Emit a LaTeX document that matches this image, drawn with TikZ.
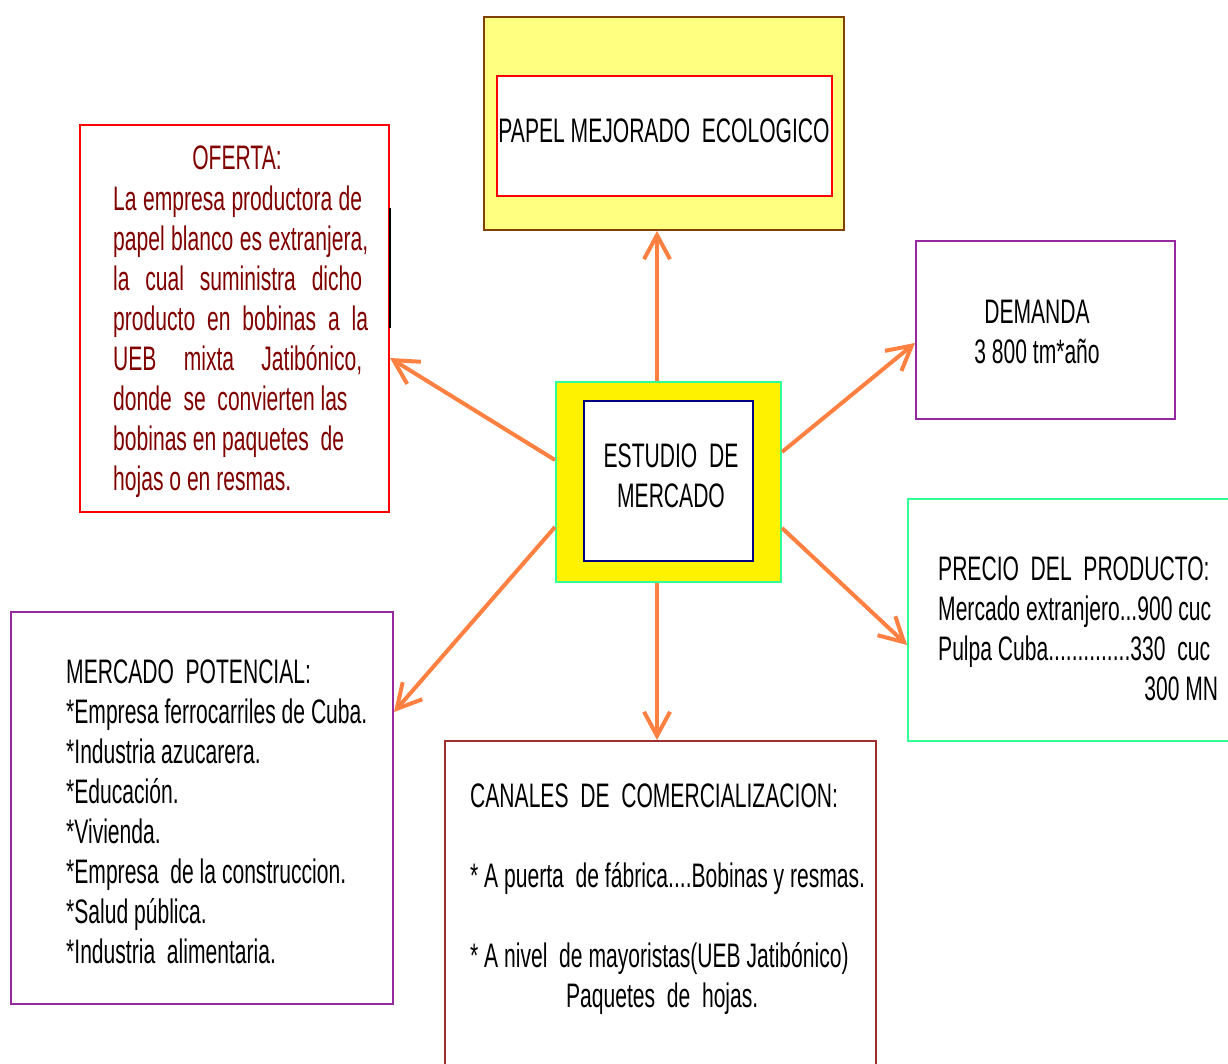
\documentclass[tikz,border=0pt]{standalone}
\usepackage{fontspec}
\setmainfont{Liberation Sans}[FakeStretch=0.62]
\usetikzlibrary{arrows.meta}
\definecolor{arrowc}{RGB}{255,128,64}
\definecolor{lightyel}{RGB}{255,255,128}
\definecolor{brownb}{RGB}{128,64,0}
\definecolor{mint}{RGB}{51,255,153}
\definecolor{navyb}{RGB}{0,0,128}
\definecolor{purpb}{RGB}{150,40,160}
\definecolor{darkredt}{RGB}{128,0,0}
\definecolor{canalb}{RGB}{160,48,48}
\begin{document}
\begin{tikzpicture}[x=1pt,y=-1pt,
  box/.style={draw, line width=2pt, inner sep=0pt, fill=white},
  txt/.style={inner sep=0pt, font=\fontsize{34}{40}\selectfont},
  conn/.style={draw=arrowc, line width=4pt, -{Straight Barb[length=24pt,width=26pt]}}]
\useasboundingbox (0,0) rectangle (1228,1064);
\clip (0,0) rectangle (1228,1064);
\fill[white] (0,0) rectangle (1228,1064);
% boxes
\node[box, draw=brownb, fill=lightyel, minimum width=360pt, minimum height=213pt] (papel) at (664,123.5) {};
\node[box, draw=red, minimum width=335pt, minimum height=120pt] (papelin) at (664.5,136) {};
\node[box, draw=red, minimum width=309pt, minimum height=387pt] (oferta) at (234.5,318.5) {};
\node[box, draw=mint, fill=yellow, minimum width=225pt, minimum height=200pt] (ctr) at (668.5,482) {};
\node[box, draw=navyb, minimum width=169pt, minimum height=160pt] (ctrin) at (668.5,481) {};
\node[box, draw=purpb, minimum width=259pt, minimum height=178pt] (dem) at (1045.5,330) {};
\node[box, draw=mint, minimum width=332pt, minimum height=242pt] (precio) at (1074,620) {};
\node[box, draw=purpb, minimum width=382pt, minimum height=392pt] (mpot) at (202,808) {};
\node[box, draw=canalb, minimum width=431pt, minimum height=339pt] (canal) at (660.5,910.5) {};
\draw[black, line width=1.5pt] ([yshift=110.5pt]oferta.east) -- ([yshift=-9.5pt]oferta.east);
% texts
\node[txt, anchor=base] (papeltxt) at (664,143) {PAPEL MEJORADO\ \ ECOLOGICO};
\node[txt, anchor=base, text=darkredt] (oftitle) at (237,170) {OFERTA:};
\node[txt, anchor=north west, align=left, text=darkredt] (oftxt) at (113,178) {%
\rule{0pt}{32pt}\makebox[249pt][s]{La empresa productora de}\\
\makebox[255pt][s]{papel blanco es extranjera,}\\
\makebox[249pt][s]{la cual suministra dicho}\\
\makebox[255pt][s]{producto en bobinas a la}\\
\makebox[249pt][s]{UEB mixta Jatibónico,}\\
donde\ \ se\ \ convierten las\\
bobinas en paquetes\ \ de\\
hojas o en resmas.};
\node[txt, anchor=north, align=center] (ctrtxt) at (671,435) {\rule{0pt}{32pt}ESTUDIO\ \ DE\\MERCADO};
\node[txt, anchor=north, align=center] (demtxt) at (1037,291) {\rule{0pt}{32pt}DEMANDA\\3 800 tm*año};
\node[txt, anchor=north west, align=left] (pretxt) at (938,548) {%
\rule{0pt}{32pt}PRECIO\ \ DEL\ \ PRODUCTO:\\
Mercado extranjero...900 cuc\\
Pulpa Cuba..............330\ \ cuc\\
\makebox[280pt][r]{300 MN}};
\node[txt, anchor=north west, align=left] (mpottxt) at (66,651) {%
\rule{0pt}{32pt}MERCADO\ \ POTENCIAL:\\
*Empresa ferrocarriles de Cuba.\\
*Industria azucarera.\\
*Educación.\\
*Vivienda.\\
*Empresa\ \ de la construccion.\\
*Salud pública.\\
*Industria\ \ alimentaria.};
\node[txt, anchor=north west, align=left] (canaltxt) at (470,775) {%
\rule{0pt}{32pt}CANALES\ \ DE\ \ COMERCIALIZACION:\\[40pt]
* A puerta\ \ de fábrica....Bobinas y resmas.\\[40pt]
* A nivel\ \ de mayoristas(UEB Jatibónico)\\
\makebox[384pt][c]{Paquetes\ \ de\ \ hojas.}};
% connectors
\draw[conn] ([xshift=-11.5pt]ctr.north) -- ([xshift=-7pt]papel.south);
\draw[conn] ([yshift=22pt]ctr.west) -- ([yshift=-39.5pt]oferta.east);
\draw[conn] ([yshift=30pt]ctr.east) -- ([yshift=-13pt]dem.west);
\draw[conn] ([yshift=-46pt]ctr.east) -- ([yshift=-25pt]precio.west);
\draw[conn] ([yshift=-45pt]ctr.west) -- ([yshift=96pt]mpot.east);
\draw[conn] ([xshift=-11.5pt]ctr.south) -- ([xshift=-3.5pt]canal.north);
\end{tikzpicture}
\end{document}
